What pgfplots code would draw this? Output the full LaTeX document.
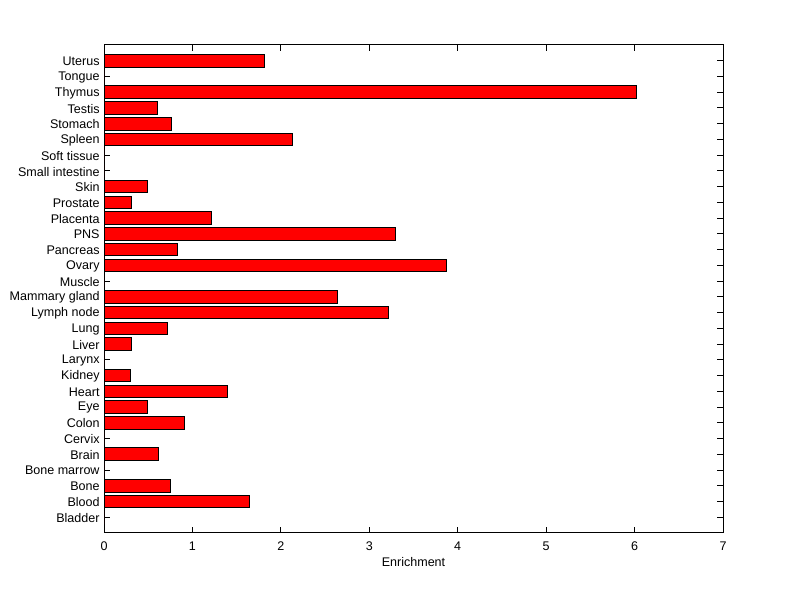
\documentclass[border=0pt]{standalone}
\usepackage{pgfplots}
\pgfplotsset{compat=1.18}
\usepackage{fontspec}
\setmainfont{Liberation Sans}
\begin{document}
\fontsize{9.4}{11}\selectfont
\begin{tikzpicture}
\useasboundingbox (0,0) rectangle (600pt,449.25pt);
\begin{axis}[
  at={(78pt,49.5pt)}, anchor=south west,
  scale only axis, width=464.25pt, height=366pt,
  xmin=0, xmax=7, ymin=0, ymax=31,
  xtick={0,1,...,7},
  ytick={1,...,30},
  yticklabels={Bladder,Blood,Bone,Bone marrow,Brain,Cervix,Colon,Eye,Heart,Kidney,Larynx,Liver,Lung,Lymph node,Mammary gland,Muscle,Ovary,Pancreas,PNS,Placenta,Prostate,Skin,Small intestine,Soft tissue,Spleen,Stomach,Testis,Thymus,Tongue,Uterus},
  tick align=inside,
  major tick length=4.7pt,
  axis line style={line width=0.75pt},
  every tick/.style={line width=0.75pt, black},
  /pgf/number format/assume math mode=true,
  ticklabel style={font=\fontsize{9.4}{11}\selectfont},
  xticklabel style={yshift=-3pt},
  yticklabel style={yshift=-0.5pt},
  xlabel={Enrichment},
  xlabel style={font=\fontsize{9.4}{11}\selectfont, yshift=1pt},
]
\addplot[xbar, bar width=0.8, fill=red, draw=black, line width=0.75pt] coordinates {
(0,1) (1.65,2) (0.755,3) (0,4) (0.62,5) (0,6) (0.91,7) (0.49,8) (1.40,9) (0.30,10)
(0,11) (0.31,12) (0.72,13) (3.22,14) (2.64,15) (0,16) (3.875,17) (0.83,18) (3.30,19) (1.22,20)
(0.31,21) (0.49,22) (0,23) (0,24) (2.13,25) (0.76,26) (0.60,27) (6.02,28) (0,29) (1.82,30)
};
\end{axis}
\end{tikzpicture}
\end{document}
